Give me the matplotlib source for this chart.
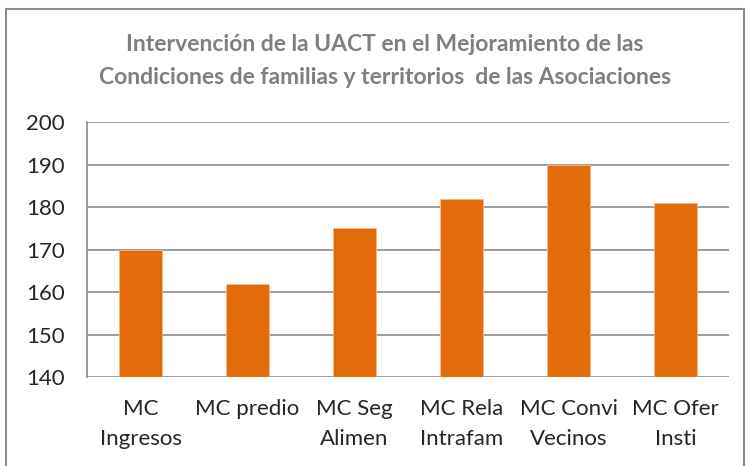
import matplotlib.pyplot as plt
from matplotlib.patches import Rectangle

categorias = ["MC\nIngresos", "MC predio", "MC Seg\nAlimen", "MC Rela\nIntrafam", "MC Convi\nVecinos", "MC Ofer\nInsti"]
valores = [170, 162, 175, 182, 190, 181]

plt.rcParams['font.family'] = ['Lato', 'DejaVu Sans']

fig = plt.figure(figsize=(7.5, 4.66), dpi=100)
ax = fig.add_axes([0.116, 0.191, 0.856, 0.547])

x = range(len(categorias))
ax.bar(x, valores, width=0.4, color="#e36c0a", edgecolor="#f4b98a", linewidth=0.6, zorder=3)

ax.set_ylim(140, 200)
ax.set_xlim(-0.5, len(categorias) - 0.5)
ax.set_yticks(range(140, 201, 10))
ax.set_xticks(list(x))
ax.set_xticklabels(categorias, fontsize=16, color="#262626", linespacing=1.6)
ax.tick_params(axis="y", labelsize=16, labelcolor="#262626", length=0, pad=16)
ax.tick_params(axis="x", length=0, pad=16)
ax.grid(axis="y", color="#8c8c8c", linewidth=1.2, zorder=0)

for s in ["top", "right", "bottom"]:
    ax.spines[s].set_visible(False)
ax.spines["left"].set_color("#8c8c8c")
ax.spines["left"].set_linewidth(1.2)

fig.text(0.513, 0.869, "Intervención de la UACT en el Mejoramiento de las\nCondiciones de familias y territorios  de las Asociaciones",
         ha="center", va="center", fontsize=16.5, fontweight="bold", color="#7f7f7f", linespacing=1.7)

fig.patches.append(Rectangle((0.008, -0.02), 0.984, 1.0, transform=fig.transFigure,
                             fill=False, edgecolor="#8c8c8c", linewidth=1.5))

fig.savefig("out.png", dpi=100)
